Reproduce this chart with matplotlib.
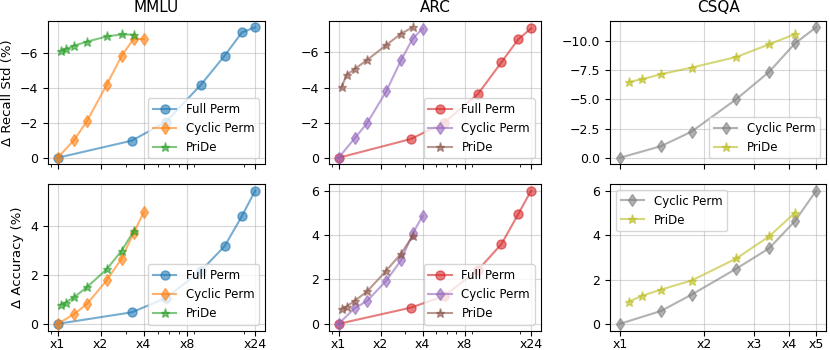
import matplotlib

matplotlib.use("Agg")
import matplotlib.pyplot as plt
from matplotlib.ticker import NullFormatter

# x positions (relative cost)
x_full = [1, 3.3, 5.7, 10, 14.7, 19.4, 24]
x_cyclic4 = [1, 1.3, 1.6, 2.2, 2.8, 3.4, 4]
x_pride4 = [1.05, 1.14, 1.3, 1.6, 2.2, 2.8, 3.4]
x_cyclic5 = [1, 1.4, 1.8, 2.6, 3.4, 4.2, 5]
x_pride5 = [1.08, 1.2, 1.4, 1.8, 2.6, 3.4, 4.2]

ticks4 = [1, 2, 4, 8, 24]
ticklabels4 = ["x1", "x2", "x4", "x8", "x24"]
ticks5 = [1, 2, 3, 4, 5]
ticklabels5 = ["x1", "x2", "x3", "x4", "x5"]

# MMLU
mmlu_std_full = [0, -0.98, -2.05, -4.17, -5.85, -7.18, -7.48]
mmlu_std_cyclic = [0, -1.0, -2.08, -4.17, -5.83, -6.82, -6.8]
mmlu_std_pride = [-6.12, -6.22, -6.42, -6.65, -6.95, -7.07, -7.05]
mmlu_acc_full = [0, 0.47, 1.05, 2.15, 3.17, 4.39, 5.43]
mmlu_acc_cyclic = [0, 0.39, 0.8, 1.77, 2.66, 3.7, 4.55]
mmlu_acc_pride = [0.77, 0.87, 1.08, 1.49, 2.22, 2.98, 3.77]

# ARC
arc_std_full = [0, -1.07, -2.0, -3.64, -5.44, -6.75, -7.37]
arc_std_cyclic = [0, -1.1, -1.97, -3.8, -5.55, -6.79, -7.36]
arc_std_pride = [-4.02, -4.72, -5.05, -5.57, -6.43, -7.07, -7.44]
arc_acc_full = [0, 0.73, 1.25, 2.43, 3.59, 4.94, 6.0]
arc_acc_cyclic = [0, 0.7, 1.03, 1.95, 2.86, 4.07, 4.86]
arc_acc_pride = [0.65, 0.78, 1.03, 1.46, 2.4, 3.16, 3.95]

# CSQA
csqa_std_cyclic = [0, -0.99, -2.24, -5.03, -7.36, -9.8, -11.19]
csqa_std_pride = [-6.5, -6.73, -7.16, -7.73, -8.64, -9.72, -10.6]
csqa_acc_cyclic = [0, 0.58, 1.32, 2.5, 3.42, 4.65, 6.03]
csqa_acc_pride = [1.01, 1.27, 1.55, 1.96, 2.96, 3.96, 5.03]

TICK_FS = 9
LEGEND_FS = 8.5
TITLE_FS = 11
LABEL_FS = 9.5


def draw(ax, series, legend_loc):
    for x, y, label, color, marker in series:
        ax.plot(x, y, color=color, marker=marker, label=label,
                linewidth=1.5, markersize=6.5, alpha=0.6)
    ax.set_xscale("log")
    ax.grid(True, alpha=0.5)
    ax.legend(loc=legend_loc, fontsize=LEGEND_FS)
    ax.tick_params(labelsize=TICK_FS)
    ax.tick_params(axis="x", pad=2)


fig, axes = plt.subplots(2, 3, figsize=(8.3, 3.5), dpi=100, sharex="col")

draw(axes[0, 0], [
    (x_full, mmlu_std_full, "Full Perm", "tab:blue", "o"),
    (x_cyclic4, mmlu_std_cyclic, "Cyclic Perm", "tab:orange", "d"),
    (x_pride4, mmlu_std_pride, "PriDe", "tab:green", "*"),
], "lower right")
draw(axes[1, 0], [
    (x_full, mmlu_acc_full, "Full Perm", "tab:blue", "o"),
    (x_cyclic4, mmlu_acc_cyclic, "Cyclic Perm", "tab:orange", "d"),
    (x_pride4, mmlu_acc_pride, "PriDe", "tab:green", "*"),
], "lower right")
draw(axes[0, 1], [
    (x_full, arc_std_full, "Full Perm", "tab:red", "o"),
    (x_cyclic4, arc_std_cyclic, "Cyclic Perm", "tab:purple", "d"),
    (x_pride4, arc_std_pride, "PriDe", "tab:brown", "*"),
], "lower right")
draw(axes[1, 1], [
    (x_full, arc_acc_full, "Full Perm", "tab:red", "o"),
    (x_cyclic4, arc_acc_cyclic, "Cyclic Perm", "tab:purple", "d"),
    (x_pride4, arc_acc_pride, "PriDe", "tab:brown", "*"),
], "lower right")
draw(axes[0, 2], [
    (x_cyclic5, csqa_std_cyclic, "Cyclic Perm", "tab:gray", "d"),
    (x_pride5, csqa_std_pride, "PriDe", "tab:olive", "*"),
], "lower right")
draw(axes[1, 2], [
    (x_cyclic5, csqa_acc_cyclic, "Cyclic Perm", "tab:gray", "d"),
    (x_pride5, csqa_acc_pride, "PriDe", "tab:olive", "*"),
], "upper left")

for ax in axes[0]:
    ax.invert_yaxis()

for col in (0, 1):
    axes[1, col].set_xticks(ticks4)
    axes[1, col].set_xticklabels(ticklabels4)
axes[1, 2].set_xticks(ticks5)
axes[1, 2].set_xticklabels(ticklabels5)
for ax in axes.flat:
    ax.xaxis.set_minor_formatter(NullFormatter())

axes[0, 0].set_title("MMLU", fontsize=TITLE_FS)
axes[0, 1].set_title("ARC", fontsize=TITLE_FS)
axes[0, 2].set_title("CSQA", fontsize=TITLE_FS)
axes[0, 0].set_ylabel("Δ Recall Std (%)", fontsize=LABEL_FS)
axes[1, 0].set_ylabel("Δ Accuracy (%)", fontsize=LABEL_FS)

# panel placement in figure pixels (830 x 350)
col_px = [(47.7, 265.0), (329.0, 540.7), (610.0, 826.0)]
row_px = [(20.7, 164.3), (184.0, 330.5)]
for r, (top, bottom) in enumerate(row_px):
    for c, (left, right) in enumerate(col_px):
        axes[r, c].set_position([left / 830, 1 - bottom / 350,
                                 (right - left) / 830, (bottom - top) / 350])

fig.savefig("out.png", dpi=100)
plt.close(fig)
